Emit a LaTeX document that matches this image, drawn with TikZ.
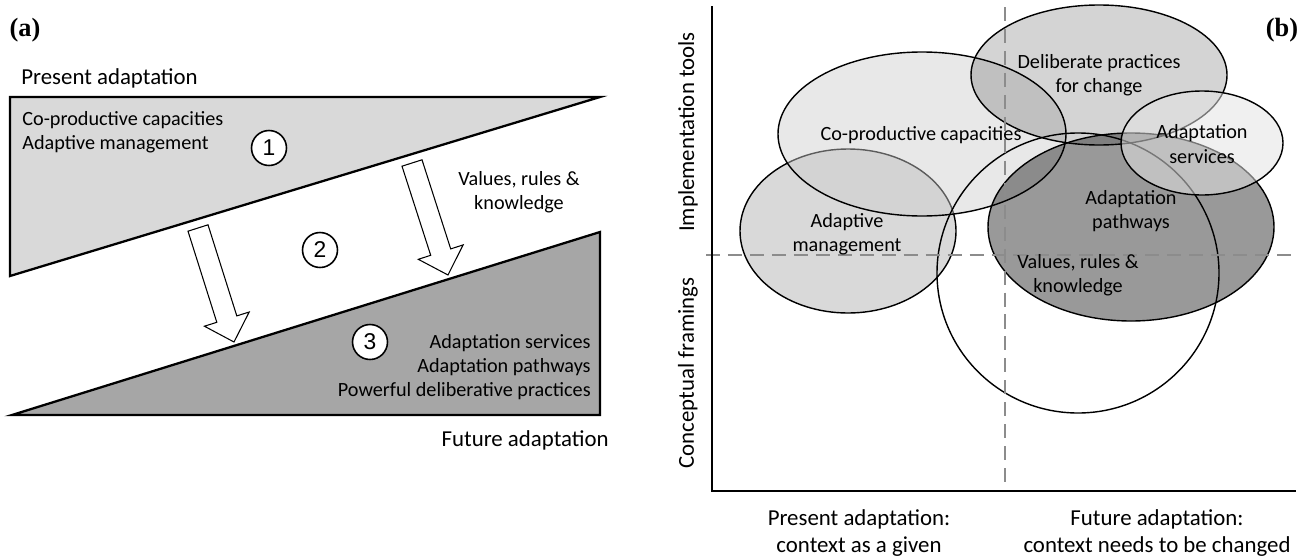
\documentclass[tikz,border=0pt]{standalone}
\usepackage{fontspec}
\setmainfont{Carlito}
\newfontfamily\numfont{Liberation Sans}
\newfontfamily\panelfont{Liberation Serif}
\definecolor{lightfill}{gray}{0.85}
\definecolor{darkfill}{gray}{0.65}
\definecolor{guidegray}{gray}{0.55}
\tikzset{
	txt/.style={font=\fontsize{11.5}{13.8}\selectfont, inner sep=0pt},
	title/.style={font=\fontsize{13}{15.8}\selectfont, inner sep=0pt},
	numcircle/.style={circle, draw=black, line width=0.9pt, fill=white,
		minimum size=0.7cm, inner sep=0pt, font=\numfont\fontsize{13}{15}\selectfont},
	panel/.style={font=\panelfont\bfseries\fontsize{15}{18}\selectfont, inner sep=0pt},
	blockarrow/.style={draw=black, fill=white, line width=0.6pt},
	blob/.style={draw=black, line width=0.8pt},
	axisline/.style={line width=1.5pt},
	guide/.style={draw=guidegray, line width=1.1pt, dash pattern=on 8pt off 4.5pt}
}
\begin{document}
\begin{tikzpicture}[x=0.02cm, y=-0.02cm]
	\useasboundingbox (0,0) rectangle (1308,558);
	% Teil (a)
	\node[panel] (pa) at (25,30) {(a)};
	\node[title, anchor=west] (present) at (21,78) {Present adaptation};
	% Dreiecke
	\filldraw[line width=1.3pt, draw=black, fill=lightfill] (10,97) -- (600,97) --
	(10,276) -- cycle;
	\filldraw[line width=1.3pt, draw=black, fill=darkfill] (12,415) -- (600,232) --
	(600,415) -- cycle;
	% Pfeile
	\filldraw[blockarrow] (208.0,224.8) -- (236.8,315.9) -- (249.2,312.0) --
	(234,342) -- (204.4,326.2) -- (216.8,322.3) -- (188.0,231.2) -- cycle;
	\filldraw[blockarrow] (422.0,159.8) -- (450.7,248.9) -- (463.1,244.9) --
	(448,275) -- (418.3,259.3) -- (430.7,255.3) -- (402.0,166.2) -- cycle;
	% Texte
	\node[txt, anchor=west, align=left] (upper) at (22,132)
	{Co-productive capacities\\Adaptive management};
	\node[txt, align=center] (values) at (519,192) {Values, rules \&\\knowledge};
	\node[txt, anchor=east, align=right] (lower) at (591,367)
	{Adaptation services\\Adaptation pathways\\Powerful deliberative practices};
	\node[title, anchor=east] (future) at (609,440) {Future adaptation};
	\node[numcircle] (one) at (269,148) {1};
	\node[numcircle] (two) at (320,250) {2};
	\node[numcircle] (three) at (370,342) {3};
	% Teil (b)
	\node[panel] (pb) at (1282,30) {(b)};
	% Ellipsen
	\filldraw[blob, fill=lightfill] (848,231) ellipse [x radius=108, y radius=82];
	\filldraw[blob, fill=black!20, fill opacity=0.45] (922,134) ellipse [x radius=144,
	y radius=82];
	\filldraw[blob, fill=black, fill opacity=0.17] (1099,75) ellipse [x radius=128,
	y radius=70];
	\draw[blob] (1078,273) ellipse [x radius=141, y radius=140];
	\filldraw[blob, fill=black, fill opacity=0.4] (1131,227) ellipse [x radius=143,
	y radius=94];
	\filldraw[blob, fill=black!11, fill opacity=0.525] (1202,143) ellipse [x radius=81,
	y radius=52];
	% Trennlinien
	\draw[guide] (706,255) -- (1298,255);
	\draw[guide] (1005,7) -- (1005,491);
	% Achsen
	\draw[axisline] (712,6) -- (712,491) -- (1296,491);
	% Beschriftungen
	\node[txt, align=center] (delib) at (1099,75) {Deliberate practices\\for change};
	\node[txt] (coprod) at (921,135) {Co-productive capacities};
	\node[txt, align=center] (services) at (1202,144) {Adaptation\\services};
	\node[txt, align=center] (pathways) at (1131,211) {Adaptation\\pathways};
	\node[txt, align=center] (admgmt) at (847,234) {Adaptive\\management};
	\node[txt, align=center] (vrk) at (1078,275) {Values, rules \&\\knowledge};
	\node[title, rotate=90] (impl) at (688,132) {Implementation tools};
	\node[title, rotate=90] (concept) at (688,373) {Conceptual framings};
	\node[title, align=center] (xleft) at (859,533) {Present adaptation:\\context as a given};
	\node[title, align=center] (xright) at (1157,533)
	{Future adaptation:\\context needs to be changed};
\end{tikzpicture}
\end{document}
